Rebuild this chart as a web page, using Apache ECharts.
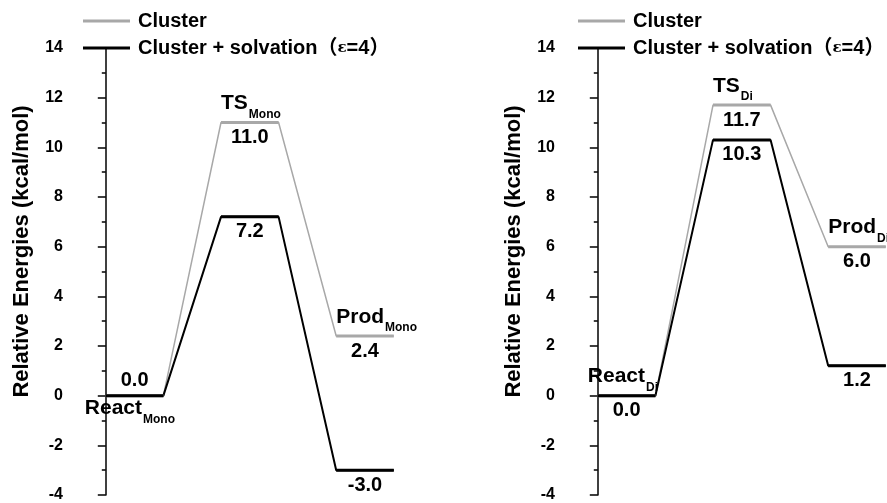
<!DOCTYPE html>
<html><head><meta charset="utf-8">
<script src="https://cdn.jsdelivr.net/npm/echarts@6/dist/echarts.min.js"></script>
<style>html,body{margin:0;padding:0;background:#fff}#c{width:887px;height:503px}</style>
</head><body><div id="c"></div>
<script>
// ---- data ----
const states = ['React', 'TS', 'Prod'];
const panels = ['Mono', 'Di'];
const monoCluster = [0.0, 11.0, 2.4];
const monoSolv = [0.0, 7.2, -3.0];
const diCluster = [0.0, 11.7, 6.0];
const diSolv = [0.0, 10.3, 1.2];
const yMin = -4, yMax = 14, yStep = 2;
const seriesNames = ['Cluster', 'Cluster + solvation（ε=4）'];
const yName = 'Relative Energies (kcal/mol)';

// ---- styles ----
const FONT = '"Liberation Sans", Arial, "Noto Sans CJK SC", sans-serif';
const GRAY = '#a8a8a8', BLACK = '#000000';
const panelData = [[monoCluster, monoSolv], [diCluster, diSolv]];
const labelCfg = {
  Mono: { valuePos: ['top', 'bottom', 'bottom'], namePos: ['bottom', 'top', 'top'], nameDx: [-21, 0, 0] },
  Di:   { valuePos: ['bottom', 'bottom', 'bottom'], namePos: ['top', 'top', 'top'], nameDx: [-10, 0, 0] }
};

function pathData(vals) {
  const d = [];
  vals.forEach((v, i) => { d.push([2 * i, v]); d.push([2 * i + 1, v]); });
  return d;
}
function levelData(vals) {
  const d = [];
  vals.forEach((v, i) => { d.push([2 * i, v]); d.push([2 * i + 1, v]); d.push([2 * i + 1.5, '-']); });
  return d;
}
function labelData(p) {
  const [cl, sv] = panelData[p];
  const cfg = labelCfg[panels[p]];
  const items = [];
  states.forEach((s, i) => {
    const vals = cl[i] === sv[i] ? [cl[i]] : [cl[i], sv[i]];
    vals.forEach(v => {
      const up = cfg.valuePos[i] === 'top';
      items.push({
        value: [2 * i + 0.5, v],
        label: { show: true, position: cfg.valuePos[i], distance: up ? 5 : 5, opacity: 1, textBorderWidth: 0,
          formatter: v.toFixed(1), fontSize: 20, lineHeight: 20, fontWeight: 'bold', color: '#000', fontFamily: FONT }
      });
    });
    const top = cfg.namePos[i] === 'top';
    items.push({
      value: [2 * i, top ? Math.max(cl[i], sv[i]) : Math.min(cl[i], sv[i])],
      label: { show: true, position: cfg.namePos[i], distance: top ? 7 : 1, align: 'left', opacity: 1, textBorderWidth: 0,
        offset: [cfg.nameDx[i], 0], color: '#000',
        formatter: '{n|' + s + '}{s|' + panels[p] + '}',
        rich: {
          n: { fontSize: 21, fontWeight: 'bold', color: '#000', fontFamily: FONT, lineHeight: 24 },
          s: { fontSize: 12, fontWeight: 'bold', color: '#000', fontFamily: FONT, lineHeight: 14, padding: [22, 0, 0, 1] }
        } }
    });
  });
  return items;
}

const grids = [
  { left: 77, top: 48, width: 345.6, height: 450 },
  { left: 569, top: 48, width: 316.8, height: 450 }
];
const xMax = [5.5, 5.0];

const series = [];
[0, 1].forEach(p => {
  const [cl, sv] = panelData[p];
  [[cl, GRAY, seriesNames[0], 1.5], [sv, BLACK, seriesNames[1], 2]].forEach(([vals, col, nm, w]) => {
    series.push({ type: 'line', name: nm, xAxisIndex: p, yAxisIndex: p, data: pathData(vals),
      symbol: 'none', color: col, itemStyle: { color: col }, lineStyle: { color: col, width: w }, silent: true, z: 2 });
    series.push({ type: 'line', name: nm, xAxisIndex: p, yAxisIndex: p, data: levelData(vals),
      symbol: 'none', connectNulls: false, color: col, itemStyle: { color: col }, lineStyle: { color: col, width: 3 }, silent: true, z: 3 });
  });
  series.push({ type: 'scatter', name: 'labels' + p, xAxisIndex: p, yAxisIndex: p, data: labelData(p),
    symbolSize: 0, itemStyle: { color: '#000', opacity: 1 }, silent: true, z: 5 });
});

const option = {
  animation: false,
  backgroundColor: '#fff',
  grid: grids,
  xAxis: [0, 1].map(p => ({ type: 'value', gridIndex: p, min: -0.5, max: xMax[p], show: false })),
  yAxis: [0, 1].map(p => ({
    type: 'value', gridIndex: p, min: yMin, max: yMax, interval: yStep,
    axisLine: { show: true, lineStyle: { color: '#000', width: 1.5 } },
    axisTick: { show: true, length: 8, lineStyle: { color: '#000', width: 1.5 } },
    minorTick: { show: true, splitNumber: 2, length: 4, lineStyle: { color: '#000', width: 1.5 } },
    splitLine: { show: false },
    axisLabel: { fontSize: 16, fontWeight: 'bold', color: '#000', margin: 14, fontFamily: FONT },
    name: yName, nameLocation: 'middle', nameGap: 44,
    nameTextStyle: { fontSize: 22, fontWeight: 'bold', color: '#000', fontFamily: FONT, padding: [0, 0, 0, 40] }
  })),
  legend: [83, 578].map(l => ({
    left: l, top: 11, orient: 'vertical', padding: 0, itemGap: 7, itemWidth: 47, itemHeight: 3,
    icon: 'rect', data: seriesNames, selectedMode: false,
    textStyle: { fontSize: 20, fontWeight: 'bold', color: '#000', lineHeight: 20, fontFamily: FONT,
      rich: {
        a: { fontSize: 20, fontWeight: 'bold', color: '#000', fontFamily: FONT, padding: [0, 0, 0, 3] },
        b: { fontSize: 20, fontWeight: 'bold', color: '#000', fontFamily: FONT },
        e: { fontSize: 15, color: '#000', fontFamily: '"DejaVu Serif", serif' }
      } },
    formatter: n => n === seriesNames[0] ? '{a|' + n + '}' : '{a|Cluster + solvation}{b|（}{e|ε}{b|=4）}'
  })),
  series: series
};
const chart = echarts.init(document.getElementById('c'), null, { renderer: 'canvas' });
chart.setOption(option);
</script>
</body></html>
